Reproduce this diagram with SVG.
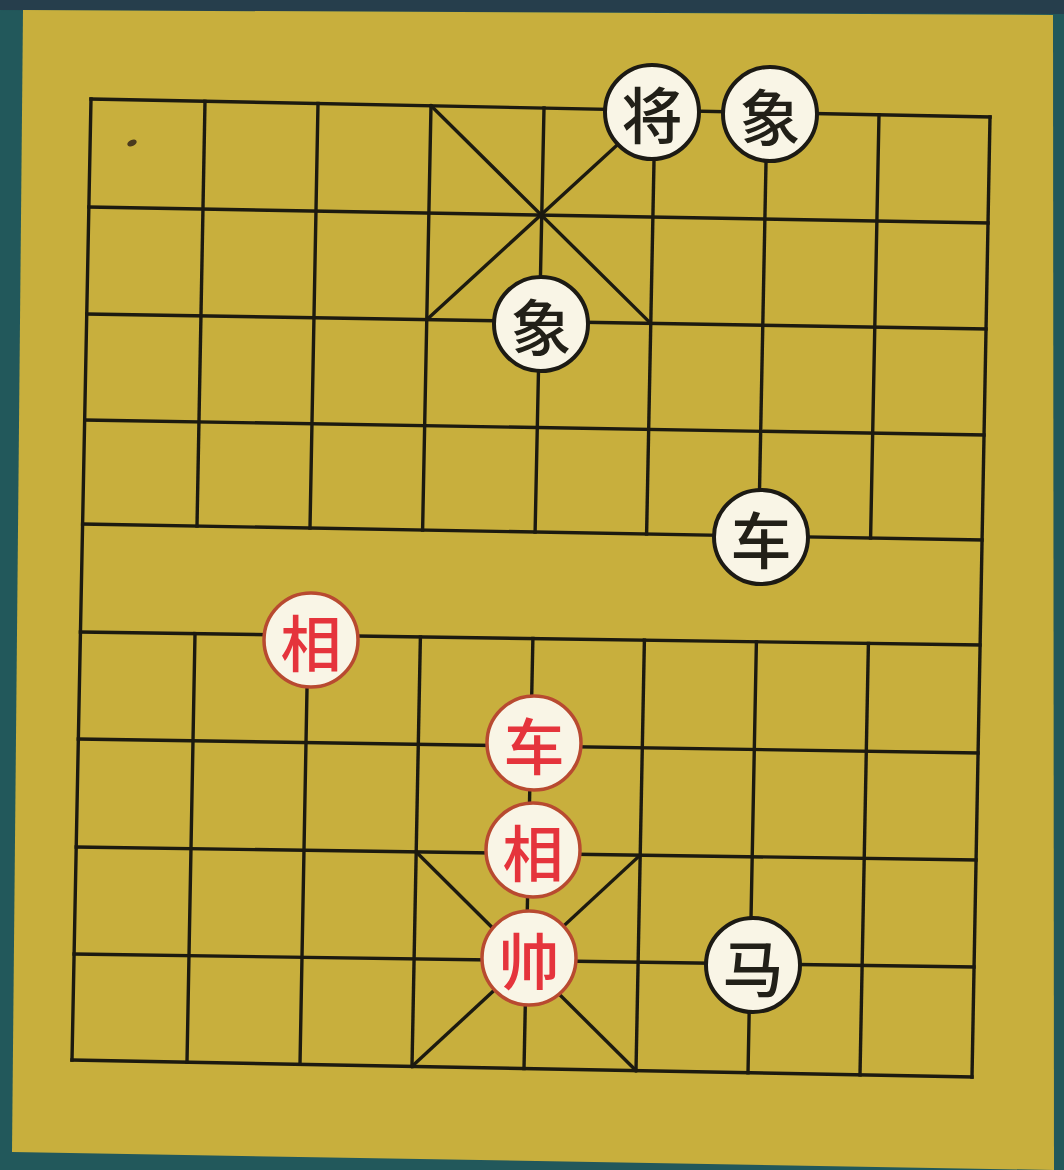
<svg xmlns="http://www.w3.org/2000/svg" width="1064" height="1170" viewBox="0 0 1064 1170">
  <style>
    .ln { stroke: #1c1a10; stroke-width: 3.4; fill: none; stroke-linecap: square; }
    .pc { fill: #f9f5e6; stroke-width: 4; }
    .blk { stroke: #1c1a14; }
    .red { stroke: #b84a30; stroke-width: 3.5; }
    .t { font-family: "Noto Sans CJK SC", "Noto Sans", sans-serif; font-size: 61px; font-weight: 500; text-anchor: middle; dominant-baseline: central; }
    .tb { fill: #222018; }
    .tr { fill: #e5343c; }
  </style>
  <rect x="0" y="0" width="1064" height="1170" fill="#22585b"/>
  <polygon points="0,0 1064,0 1064,14 0,10" fill="#263e4c"/>
  <polygon points="23,10 1053,15 1054,1170 12,1152" fill="#c8af3d"/>
  <ellipse cx="132" cy="143" rx="5" ry="3" transform="rotate(-25 132 143)" fill="#4a3a1e"/>

  <g id="grid">
    <line class="ln" x1="91" y1="99" x2="990" y2="117"/>
    <line class="ln" x1="88.9" y1="207" x2="988" y2="223"/>
    <line class="ln" x1="86.8" y1="314" x2="986" y2="329"/>
    <line class="ln" x1="84.7" y1="420" x2="984" y2="435"/>
    <line class="ln" x1="82.6" y1="524" x2="982" y2="540"/>
    <line class="ln" x1="80.4" y1="632" x2="980" y2="645"/>
    <line class="ln" x1="78.3" y1="739" x2="978" y2="753"/>
    <line class="ln" x1="76.2" y1="847" x2="976" y2="860"/>
    <line class="ln" x1="74.1" y1="954" x2="974" y2="967"/>
    <line class="ln" x1="72" y1="1060" x2="972" y2="1077"/>

    <line class="ln" x1="91" y1="99" x2="72" y2="1060"/>
    <line class="ln" x1="990" y1="117" x2="972" y2="1077"/>

    <line class="ln" x1="205" y1="101.3" x2="197" y2="526"/>
    <line class="ln" x1="195" y1="633.6" x2="187" y2="1062.1"/>
    <line class="ln" x1="318" y1="103.5" x2="310" y2="528"/>
    <line class="ln" x1="308" y1="635.3" x2="300" y2="1064.3"/>
    <line class="ln" x1="431" y1="105.8" x2="422.6" y2="530"/>
    <line class="ln" x1="420.4" y1="636.9" x2="412" y2="1066.4"/>
    <line class="ln" x1="544" y1="108" x2="535.1" y2="532"/>
    <line class="ln" x1="532.9" y1="638.5" x2="524" y2="1068.5"/>
    <line class="ln" x1="655" y1="110.3" x2="646.6" y2="534"/>
    <line class="ln" x1="644.4" y1="640.1" x2="636" y2="1070.6"/>
    <line class="ln" x1="767" y1="112.5" x2="758.6" y2="536"/>
    <line class="ln" x1="756.4" y1="641.8" x2="748" y2="1072.8"/>
    <line class="ln" x1="879" y1="114.8" x2="870.6" y2="538"/>
    <line class="ln" x1="868.4" y1="643.4" x2="860" y2="1074.9"/>

    <line class="ln" x1="431" y1="105.8" x2="650.8" y2="323.4"/>
    <line class="ln" x1="655" y1="110.3" x2="426.8" y2="319.6"/>
    <line class="ln" x1="416.2" y1="851.9" x2="636" y2="1070.6"/>
    <line class="ln" x1="640.2" y1="855.1" x2="412" y2="1066.4"/>
  </g>

  <g id="black-jiang">
    <circle class="pc blk" cx="652" cy="112" r="47"/>
    <text class="t tb" x="652" y="112">将</text>
  </g>
  <g id="black-xiang-1">
    <circle class="pc blk" cx="770" cy="114" r="47"/>
    <text class="t tb" x="770" y="114">象</text>
  </g>
  <g id="black-xiang-2">
    <circle class="pc blk" cx="541" cy="324" r="47"/>
    <text class="t tb" x="541" y="324">象</text>
  </g>
  <g id="black-che">
    <circle class="pc blk" cx="761" cy="537" r="47"/>
    <text class="t tb" x="761" y="537">车</text>
  </g>
  <g id="black-ma">
    <circle class="pc blk" cx="753" cy="965" r="47"/>
    <text class="t tb" x="753" y="965">马</text>
  </g>

  <g id="red-xiang-1">
    <circle class="pc red" cx="311" cy="640" r="47"/>
    <text class="t tr" x="311" y="640">相</text>
  </g>
  <g id="red-che">
    <circle class="pc red" cx="534" cy="743" r="47"/>
    <text class="t tr" x="534" y="743">车</text>
  </g>
  <g id="red-xiang-2">
    <circle class="pc red" cx="533" cy="850" r="47"/>
    <text class="t tr" x="533" y="850">相</text>
  </g>
  <g id="red-shuai">
    <circle class="pc red" cx="529" cy="958" r="47"/>
    <text class="t tr" x="529" y="958">帅</text>
  </g>
</svg>
